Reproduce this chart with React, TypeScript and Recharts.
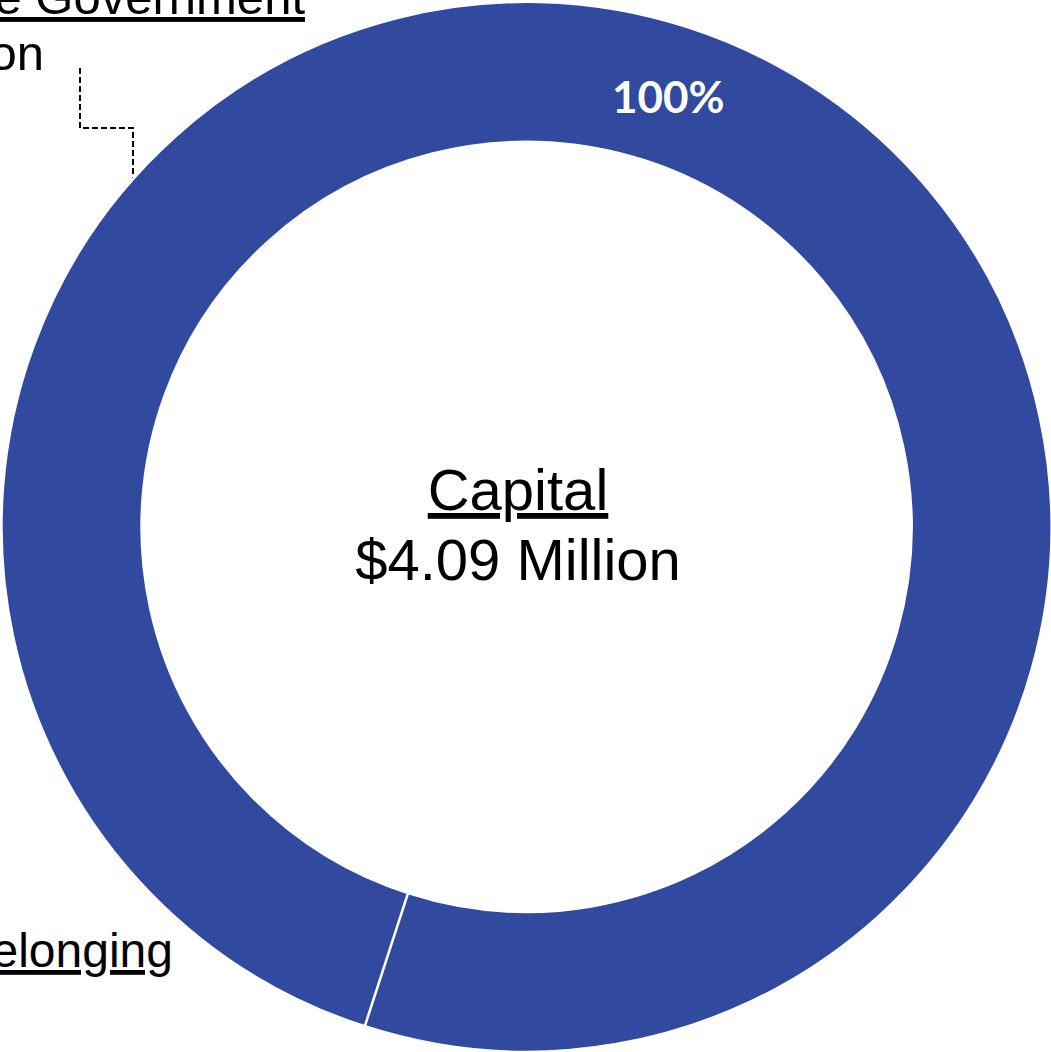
import { PieChart, Pie, Customized } from "recharts";

// slice data
const categories = ["Capital"];
const amounts = [4.09]; // $ million
const shares = ["100%"];

// text lines for the labels that sit outside the ring (cropped by the frame)
const topLabelLines = ["State Government", "$0.00 Million"];
const bottomLabelLines = ["Belonging"];
const centerLines = ["Capital", "$4.09 Million"];

const BLUE = "#31499F";
const FONT = "'Liberation Sans', Arial, sans-serif";
const UNDERLINE = { textDecorationSkipInk: "none" } as React.CSSProperties;

const pieData = categories.map((name, i) => ({ name, value: amounts[i] }));

const RAD = Math.PI / 180;

const renderShare = (props: any) => {
  const { cx, cy, midAngle, innerRadius, outerRadius, index } = props;
  const r = (innerRadius + outerRadius) / 2 + 2;
  const x = cx + r * Math.cos(-midAngle * RAD);
  const y = cy + r * Math.sin(-midAngle * RAD);
  return (
    <text
      x={x}
      y={y + 4}
      fill="#fff"
      textAnchor="middle"
      dominantBaseline="central"
      fontFamily="Lato, 'Open Sans', sans-serif"
      fontWeight={700}
      fontSize={44}
    >
      {shares[index]}
    </text>
  );
};

const Annotations = () => (
  <g fontFamily={FONT} fill="#000">
    {/* center */}
    <text x={518} y={510} fontSize={58} textAnchor="middle" textDecoration="underline" style={UNDERLINE}>
      {centerLines[0]}
    </text>
    <text x={518} y={580} fontSize={58} textAnchor="middle">
      {centerLines[1]}
    </text>

    {/* top-left label + leader */}
    <text x={305} y={14} fontSize={49} textAnchor="end" textDecoration="underline" style={UNDERLINE}>
      {topLabelLines[0]}
    </text>
    <text x={44} y={70} fontSize={49} textAnchor="end">
      {topLabelLines[1]}
    </text>
    <polyline
      points="80,68 80,128 133,128 133,178"
      fill="none"
      stroke="#000"
      strokeWidth={2}
      strokeDasharray="6 3"
    />

    {/* bottom-left label */}
    <text x={173} y={967} fontSize={48} textAnchor="end" textDecoration="underline" style={UNDERLINE}>
      {bottomLabelLines[0]}
    </text>
  </g>
);

export default function App() {
  return (
    <div
      style={{
        position: "absolute",
        left: 0,
        top: 0,
        width: 1051,
        height: 1052,
        background: "#fff",
        overflow: "hidden",
      }}
    >
      <PieChart width={1051} height={1052} margin={{ top: 0, right: 0, bottom: 0, left: 0 }}>
        <Pie
          data={pieData}
          dataKey="value"
          nameKey="name"
          cx={527}
          cy={527}
          innerRadius={385}
          outerRadius={525}
          startAngle={252}
          endAngle={-108}
          fill={BLUE}
          stroke="#fff"
          strokeWidth={2.5}
          labelLine={false}
          label={renderShare}
          isAnimationActive={false}
        />
        <Customized component={Annotations} />
      </PieChart>
    </div>
  );
}
